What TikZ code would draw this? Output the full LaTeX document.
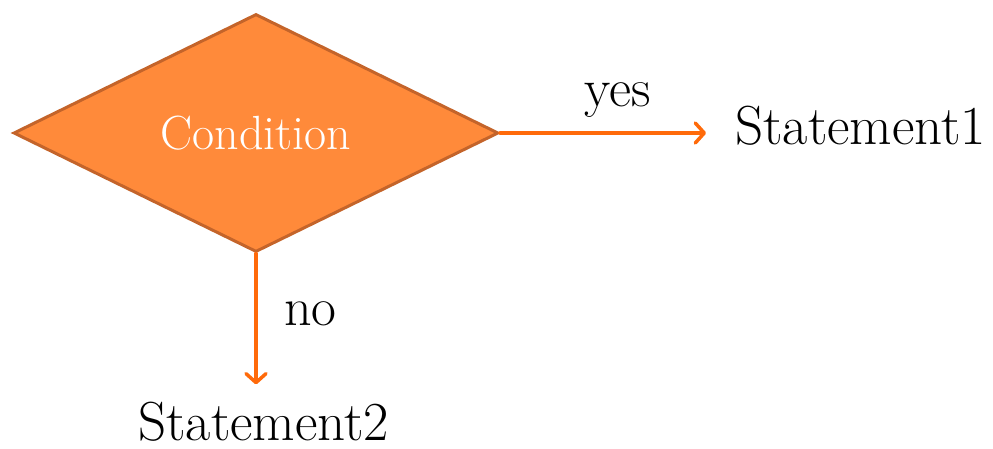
\documentclass[tikz,border=0pt]{standalone}
\usepackage{amsmath}
\usepackage{tikz}
\usetikzlibrary{shapes.geometric,arrows.meta}

\definecolor{condfill}{HTML}{FF8A3A}
\definecolor{conddraw}{HTML}{C4642A}
\definecolor{flowline}{HTML}{FF6A0A}

\tikzset{
	decision/.style={diamond, draw=conddraw, fill=condfill, line width=3pt,
		minimum width=485pt, minimum height=238pt, inner sep=0pt,
		text=white, font=\fontsize{48}{54}\selectfont},
	stmtbox/.style={inner sep=0pt, font=\fontsize{55}{62}\selectfont},
	flowarrow/.style={draw=flowline, line width=3.5pt, line cap=round,
		-{Straight Barb[length=9pt, width=20pt, line width=3.5pt, round]}},
	flowlabel/.style={font=\fontsize{54}{60}\selectfont}
}

\begin{document}
\begin{tikzpicture}[x=1pt, y=-1pt]

	\useasboundingbox (0,0) rectangle (993,449);

	
	\node[decision] (cond) at (256,133) {\raisebox{-3pt}{Condition}};

	
	\node[stmtbox, anchor=base west] (stmtone) at (735,145) {Statement1};
	\node[stmtbox, anchor=base west] (stmttwo) at (138,440) {Statement2};

	
	\draw[flowarrow, shorten >=29pt] (cond.east) -- (cond.east -| stmtone.west)
		node[flowlabel, midway, above=10pt] (yes) {yes};
	\draw[flowarrow, shorten >=17pt] (cond.south) -- (cond.south |- stmttwo.north)
		node[flowlabel, pos=.41, right=23pt] (no) {no};

\end{tikzpicture}
\end{document}
